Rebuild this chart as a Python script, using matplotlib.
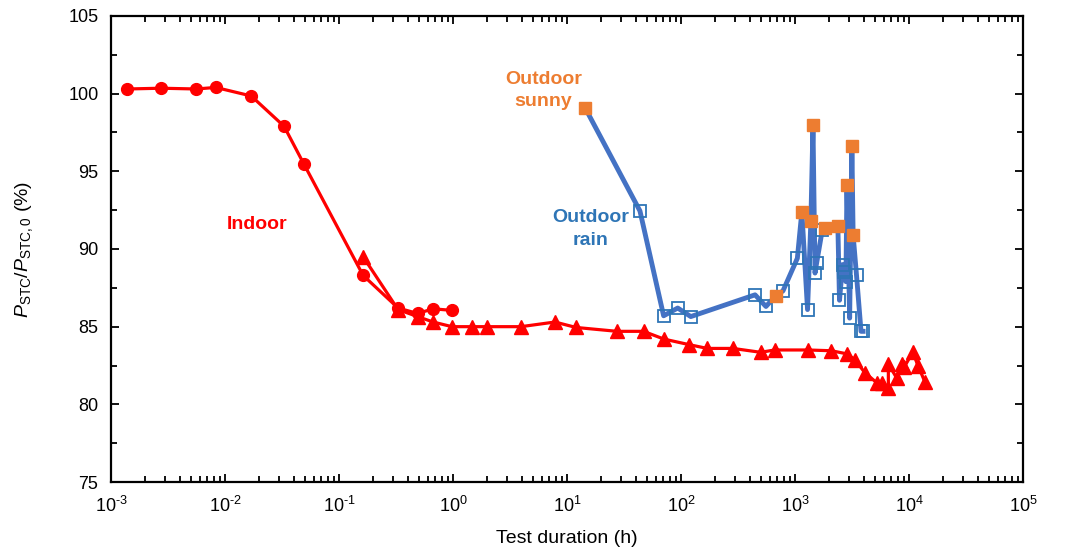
import matplotlib.pyplot as plt
from matplotlib.ticker import LogLocator, MultipleLocator, FixedLocator, NullFormatter

plt.rcParams['font.family'] = ['Liberation Sans', 'DejaVu Sans']
plt.rcParams['mathtext.fontset'] = 'custom'
plt.rcParams['mathtext.rm'] = 'Liberation Sans'
plt.rcParams['mathtext.it'] = 'Liberation Sans:italic'
plt.rcParams['mathtext.default'] = 'regular'

# Indoor test, circles
indoor_c_t = [0.00138, 0.00275, 0.0056, 0.0083, 0.017, 0.033, 0.049, 0.163, 0.33, 0.49, 0.67, 0.98]
indoor_c_p = [100.3, 100.35, 100.3, 100.4, 99.85, 97.9, 95.5, 88.3, 86.2, 85.85, 86.15, 86.05]

# Indoor test, triangles
indoor_t_t = [0.163, 0.33, 0.49, 0.67, 0.98, 1.47, 1.99, 3.95, 7.85, 12, 27.6, 47, 71, 117, 170,
              286, 500, 665, 1290, 2090, 2860, 3380, 4090, 5200, 5770, 6600, 6600, 7800, 8700,
              9100, 10800, 12000, 13800]
indoor_t_p = [89.5, 86.1, 85.65, 85.3, 85.0, 85.0, 85.0, 85.0, 85.3, 84.95, 84.7, 84.7, 84.2, 83.85,
              83.6, 83.6, 83.35, 83.5, 83.5, 83.45, 83.25, 82.85, 82.05, 81.4, 81.4, 81.05, 82.6,
              81.7, 82.6, 82.4, 83.35, 82.5, 81.45]

# Outdoor test, in time order; S = sunny, R = rain
out_t = [14.4, 43.7, 70.5, 93.7, 122, 447, 557, 680, 785, 1050, 1150, 1290, 1380, 1440, 1500,
         1550, 1740, 1830, 2380, 2460, 2620, 2700, 2800, 2860, 3020, 3160, 3240, 3470, 3800, 3960]
out_p = [99.1, 92.45, 85.7, 86.2, 85.65, 87.05, 86.3, 87.0, 87.3, 89.4, 92.4, 86.1, 91.8, 97.95,
         88.45, 89.1, 91.25, 91.35, 91.5, 86.7, 89.0, 88.5, 87.9, 94.1, 85.55, 96.6, 90.9, 88.3,
         84.7, 84.7]
out_kind = ['S', 'R', 'R', 'R', 'R', 'R', 'R', 'S', 'R', 'R', 'S', 'R', 'S', 'S', 'R',
            'R', 'R', 'S', 'S', 'R', 'R', 'R', 'R', 'S', 'R', 'S', 'S', 'R', 'R', 'R']

x_ticks = [1e-3, 1e-2, 1e-1, 1e0, 1e1, 1e2, 1e3, 1e4, 1e5]
x_tick_labels = ['$10^{\u2010 3}$', '$10^{\u2010 2}$', '$10^{\u2010 1}$', '$10^{0}$', '$10^{1}$',
                 '$10^{2}$', '$10^{3}$', '$10^{4}$', '$10^{5}$']
y_ticks = [75, 80, 85, 90, 95, 100, 105]

red = '#FF0000'
blue_line = '#4472C4'
blue_edge = '#2E75B6'
orange = '#ED7D31'

fig = plt.figure(figsize=(10.7, 5.49), dpi=100)
ax = fig.add_axes([0.1037, 0.122, 0.8523, 0.8489])

ax.plot(indoor_t_t, indoor_t_p, color=red, lw=2.3, marker='^', ms=9.5, mec=red, mfc=red, zorder=3)
ax.plot(indoor_c_t, indoor_c_p, color=red, lw=2.3, marker='o', ms=8.5, mec=red, mfc=red, zorder=3)

ax.plot(out_t, out_p, color=blue_line, lw=3.5, zorder=4)
rain_t = [t for t, k in zip(out_t, out_kind) if k == 'R']
rain_p = [p for p, k in zip(out_p, out_kind) if k == 'R']
sun_t = [t for t, k in zip(out_t, out_kind) if k == 'S']
sun_p = [p for p, k in zip(out_p, out_kind) if k == 'S']
ax.plot(rain_t, rain_p, ls='none', marker='s', ms=8, mfc='none', mec=blue_edge, mew=1.3, zorder=5)
ax.plot(sun_t, sun_p, ls='none', marker='s', ms=8, mfc=orange, mec=orange, zorder=5)

ax.text(0.019, 91.55, 'Indoor', color=red, fontsize=14, fontweight='bold', ha='center', va='center')
ax.text(6.2, 100.2, 'Outdoor\nsunny', color=orange, fontsize=14, fontweight='bold',
        ha='center', va='center', linespacing=1.45)
ax.text(16, 91.3, 'Outdoor\nrain', color=blue_edge, fontsize=14, fontweight='bold',
        ha='center', va='center', linespacing=1.45)

ax.set_xscale('log')
ax.set_xlim(1e-3, 1e5)
ax.set_ylim(75, 105)
ax.xaxis.set_major_locator(FixedLocator(x_ticks))
ax.set_xticklabels(x_tick_labels)
ax.xaxis.set_minor_locator(LogLocator(base=10, subs=range(2, 10), numticks=20))
ax.xaxis.set_minor_formatter(NullFormatter())
ax.set_yticks(y_ticks)
ax.yaxis.set_minor_locator(MultipleLocator(2.5))

ax.tick_params(which='both', direction='in', top=True, right=True, labelsize=13, width=1.3)
ax.tick_params(which='major', length=6)
ax.tick_params(which='minor', length=4)
ax.tick_params(axis='x', pad=10)
ax.tick_params(axis='y', pad=9)
for s in ax.spines.values():
    s.set_linewidth(1.6)

ax.set_xlabel('Test duration (h)', fontsize=14, labelpad=10)
ax.set_ylabel('$\\mathit{P}_{STC}/\\mathit{P}_{STC,0}$ (%)', fontsize=14, labelpad=24)

fig.savefig('out.png', dpi=100)
